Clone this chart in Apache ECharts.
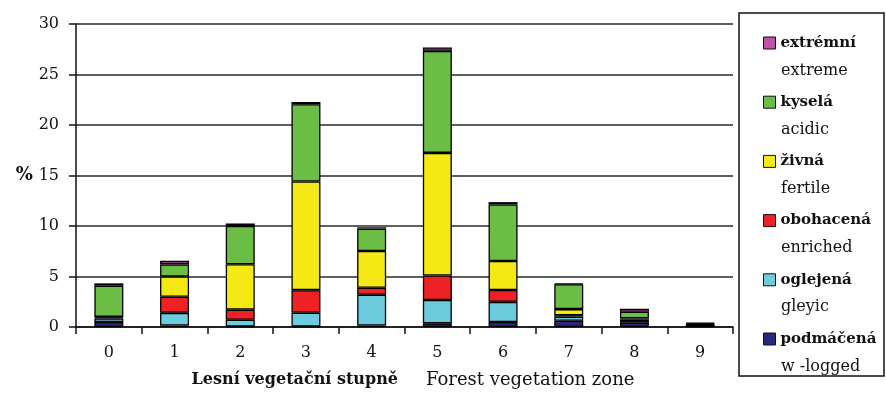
<!DOCTYPE html>
<html>
<head>
<meta charset="utf-8">
<script src="https://cdn.jsdelivr.net/npm/echarts@6/dist/echarts.min.js"></script>
<style>html,body{margin:0;padding:0;background:#fff}#c{width:886px;height:394px}</style>
</head>
<body>
<div id="c"></div>
<script>
// Categories: forest vegetation zones
var categories = ['0','1','2','3','4','5','6','7','8','9'];
// Series (bottom to top of the stack), values in %
var podmacena = [0.5, 0.15, 0.05, 0.05, 0.15, 0.36, 0.49, 0.62, 0.46, 0.10];
var oglejena  = [0.35, 1.25, 0.67, 1.36, 3.04, 2.31, 2.00, 0.40, 0.13, 0.05];
var obohacena = [0.10, 1.60, 1.00, 2.24, 0.69, 2.43, 1.18, 0.15, 0.13, 0.05];
var zivna     = [0.05, 2.00, 4.50, 10.76, 3.65, 12.14, 2.87, 0.60, 0.14, 0.05];
var kysela    = [3.10, 1.20, 3.78, 7.64, 2.21, 10.10, 5.59, 2.46, 0.65, 0.10];
var extremni  = [0.22, 0.35, 0.25, 0.23, 0.13, 0.33, 0.23, 0.08, 0.30, 0.05];
var seriesNames = ['podmáčená','oglejená','obohacená','živná','kyselá','extrémní'];
var seriesEnglish = ['w -logged','gleyic','enriched','fertile','acidic','extreme'];
var seriesColors = ['#27287a','#6ccbdc','#ee2224','#f4e914','#6cbd45','#c050a8'];
var yTicks = {min: 0, max: 30, interval: 5};
var xTitleCz = 'Lesní vegetační stupně';
var xTitleEn = 'Forest vegetation zone';
var yTitle = '%';

var dataSets = [podmacena, oglejena, obohacena, zivna, kysela, extremni];
var FONT = '"DejaVu Serif", "Liberation Serif", serif';

var series = seriesNames.map(function(n, i){
  return {
    name: n, type: 'bar', stack: 'all', barWidth: 29,
    data: dataSets[i],
    itemStyle: {color: seriesColors[i], borderColor: '#000', borderWidth: 1.3},
    emphasis: {disabled: true}
  };
});

var legendOrder = seriesNames.slice().reverse();
var englishOrder = seriesEnglish.slice().reverse();

var graphics = [{
  type: 'rect', shape: {x: 739, y: 13, width: 145, height: 363},
  style: {fill: 'none', stroke: '#111', lineWidth: 1.5}
}];
englishOrder.forEach(function(t, i){
  graphics.push({
    type: 'text', x: 781, y: 43 + i * 59.2 + 27.5,
    style: {text: t, font: '16px ' + FONT, fill: '#111', verticalAlign: 'middle'}
  });
});

var chart = echarts.init(document.getElementById('c'), null, {renderer: 'canvas'});
chart.setOption({
  animation: false,
  backgroundColor: '#fff',
  grid: {left: 76, right: 153, top: 24, bottom: 66},
  legend: {
    orient: 'vertical', left: 763, top: 34, padding: 0,
    itemWidth: 12, itemHeight: 12, itemGap: 41.2,
    icon: 'rect',
    data: legendOrder,
    itemStyle: {borderColor: '#111', borderWidth: 1},
    textStyle: {fontFamily: FONT, fontWeight: 'bold', fontSize: 15, lineHeight: 18, color: '#111'},
    selectedMode: false
  },
  graphic: graphics,
  xAxis: {
    type: 'category', data: categories,
    axisLine: {lineStyle: {color: '#111', width: 1.5}},
    axisTick: {show: true, length: 7, interval: 0, lineStyle: {color: '#111', width: 1.5}},
    axisLabel: {fontFamily: FONT, fontSize: 16, color: '#111', margin: 18},
    name: '{b|' + xTitleCz + '}{r|' + xTitleEn + '}',
    nameLocation: 'middle', nameGap: 44,
    nameTextStyle: {
      padding: [0, 0, 0, 17],
      rich: {
        b: {fontFamily: FONT, fontWeight: 'bold', fontSize: 16, color: '#111'},
        r: {fontFamily: FONT, fontSize: 18, color: '#111', padding: [0, 0, 0, 28]}
      }
    }
  },
  yAxis: {
    type: 'value', min: yTicks.min, max: yTicks.max, interval: yTicks.interval,
    axisLine: {show: true, lineStyle: {color: '#111', width: 1.5}},
    axisTick: {show: true, length: 7, lineStyle: {color: '#111', width: 1.5}},
    axisLabel: {fontFamily: FONT, fontSize: 16, color: '#111', margin: 17},
    splitLine: {lineStyle: {color: '#2a2a2a', width: 1.5}},
    name: yTitle, nameLocation: 'middle', nameRotate: 0, nameGap: 43,
    nameTextStyle: {fontFamily: FONT, fontWeight: 'bold', fontSize: 18, color: '#111'}
  },
  series: series
});
</script>
</body>
</html>
